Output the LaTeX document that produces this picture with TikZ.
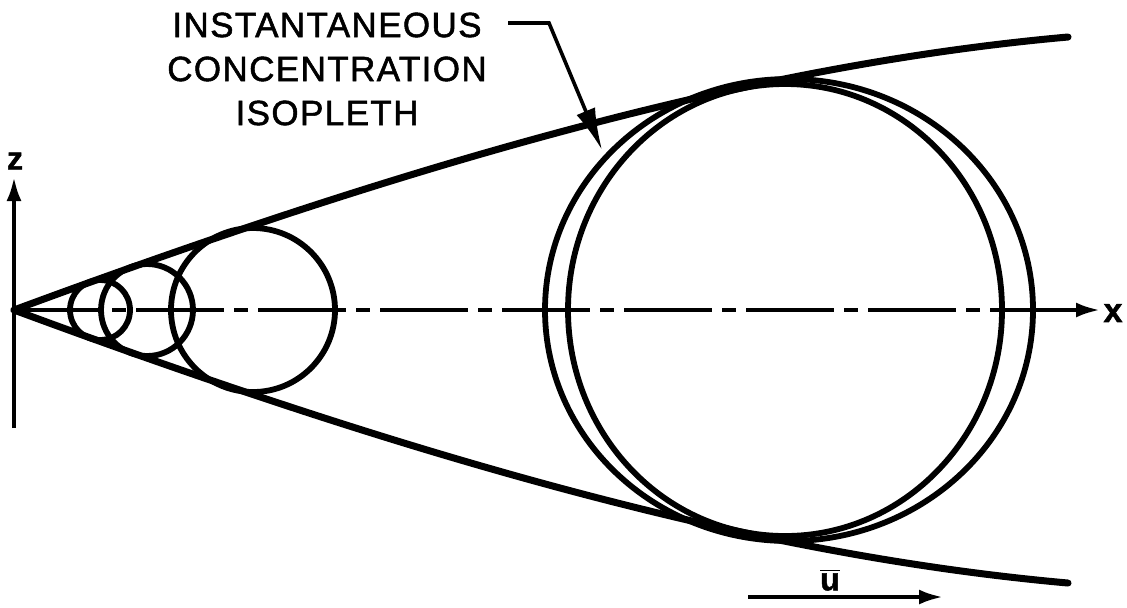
\documentclass[tikz,border=0pt]{standalone}
\usepackage{fontspec}
\newfontfamily\leroy[LetterSpace=4, FakeBold=1.5]{Liberation Sans}
\usetikzlibrary{arrows.meta}

\begin{document}
\begin{tikzpicture}[
    x=0.5pt, y=-0.5pt,
    envelope/.style={line width=3.5pt, line cap=round},
    puff/.style={line width=2.9pt},
    axis/.style={line width=2pt, -{Latex[length=12pt, width=7.5pt]}},
    centerline/.style={line width=2pt, dash pattern=on 44pt off 5pt on 7pt off 5pt},
    leader/.style={line width=1.8pt, -{Latex[length=21pt, width=10pt]}},
    lettering/.style={font=\leroy\fontsize{17.5}{22}\selectfont, inner sep=0pt},
]
\useasboundingbox (0,0) rectangle (1127,607);

% origin and axes
\coordinate (O)     at (14,310);
\coordinate (zbot)  at (14,428);
\coordinate (ztip)  at (14,177);
\coordinate (xsol)  at (994,310);
\coordinate (xtip)  at (1100,310);

\draw[axis] (zbot) -- (ztip);
\draw[centerline] (O) -- (xsol);
\draw[axis] (xsol) -- (xtip);

\node[lettering, font=\leroy\bfseries\fontsize{16}{18}\selectfont] (zlab) at (15,161) {z};
\node[lettering, font=\leroy\bfseries\fontsize{17}{20}\selectfont] (xlab) at (1113,313) {x};

% plume envelope
\draw[envelope] (O) .. controls (414,162) and (754,65) .. (1068,37);
\draw[envelope] (O) .. controls (414,458) and (754,555) .. (1068,583);

% puffs near the source
\draw[puff] (100,310) circle [radius=30];
\draw[puff] (147,310) circle [radius=46];
\draw[puff] (253,310) circle [radius=82];

% large puff and its isopleth
\draw[puff] (785,310) ellipse [x radius=217, y radius=226];
\draw[puff] (789,310) ellipse [x radius=244, y radius=231];

% label and leader
\node[lettering, align=center] (iso) at (327,69)
    {INSTANTANEOUS\\CONCENTRATION\\ISOPLETH};
\coordinate (lead)   at (508,23);
\coordinate (bend)   at (549,23);
\coordinate (isotip) at (602,150);
\draw[leader] (lead) -- (bend) -- (isotip);

% mean wind
\coordinate (ustart) at (748,597);
\coordinate (uend)   at (943,597);
\draw[axis] (ustart) -- (uend);
\node[lettering, font=\leroy\bfseries\fontsize{16}{18}\selectfont] (ulab) at (830,580) {$\overline{\hbox{u}}$};

\end{tikzpicture}
\end{document}
